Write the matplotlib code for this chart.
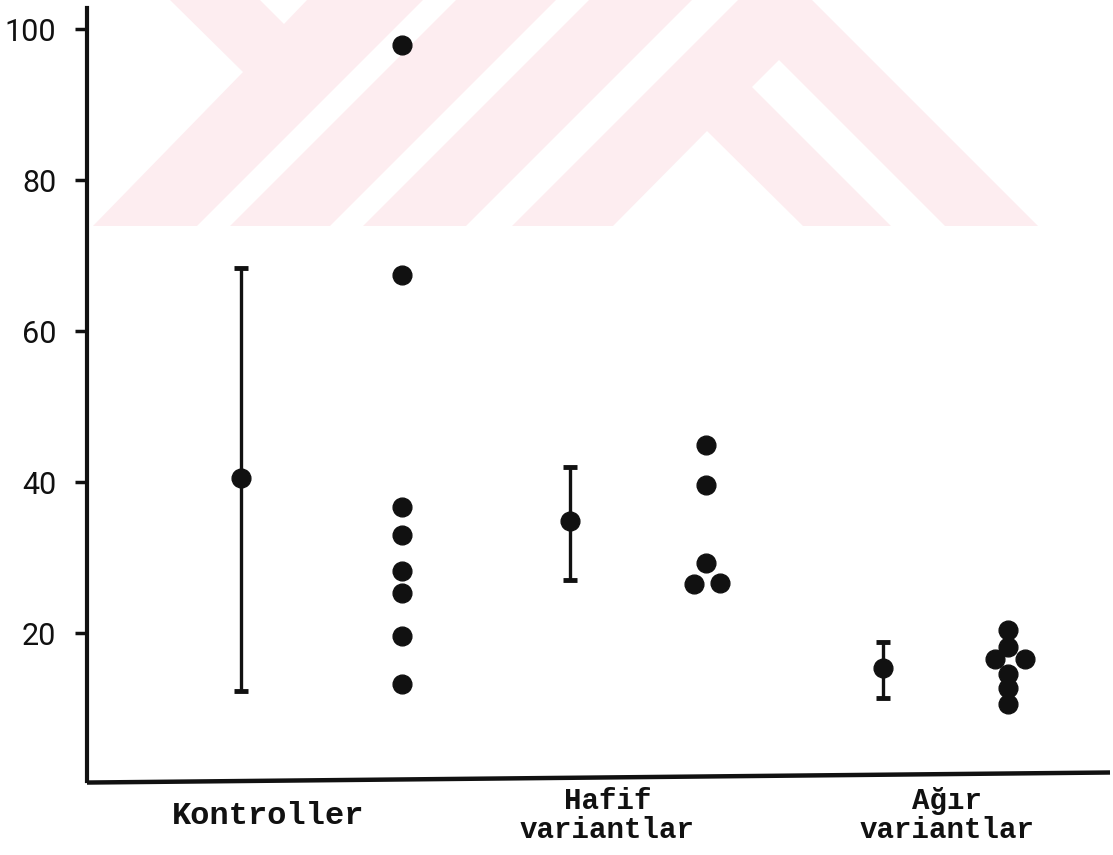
import matplotlib

matplotlib.use("Agg")
import matplotlib.pyplot as plt
import matplotlib.transforms as mtransforms
import numpy as np
from matplotlib.patches import Polygon

# --- data ------------------------------------------------------------------
categories = ["Kontroller", "Hafif\nvariantlar", "Ağır\nvariantlar"]
cat_pos = [0, 1, 2]

# mean with range (error bar column of each group)
bar_x = [-0.08, 0.89, 1.81]
means = np.array([40.6, 34.9, 15.4])
upper = np.array([68.4, 42.0, 18.9])
lower = np.array([12.4, 27.1, 11.5])

# individual values (dot column of each group)
kontroller_x = [0.395] * 8
kontroller_vals = [97.9, 67.5, 36.7, 33.0, 28.2, 25.4, 19.6, 13.3]
hafif_x = [1.29, 1.29, 1.29, 1.255, 1.33]
hafif_vals = [44.9, 39.6, 29.3, 26.5, 26.7]
agir_x = [2.18, 2.18, 2.14, 2.23, 2.18, 2.18, 2.18]
agir_vals = [20.4, 18.2, 16.6, 16.6, 14.6, 12.7, 10.6]

yticks = [20, 40, 60, 80, 100]

INK = "#111111"
W, H = 1113, 855

fig = plt.figure(figsize=(W / 100, H / 100), dpi=100)
fig.patch.set_facecolor("white")


def px(points):
    """pixel coords (y down) -> figure fraction"""
    return [(x / W, 1 - y / H) for x, y in points]


# faint watermark of the scanned page (drawn behind everything)
pink = "#fdedf0"
fig.patches.append(Polygon(px([(170, 0), (812, 0), (1038, 226), (93, 226), (243, 72)]),
                           closed=True, transform=fig.transFigure,
                           facecolor=pink, edgecolor="none", zorder=-2))
white_shapes = [
    [(197, 226), (230, 226), (456, 0), (423, 0)],
    [(330, 226), (363, 226), (589, 0), (556, 0)],
    [(466, 226), (512, 226), (738, 0), (692, 0)],
    [(613, 226), (707, 131), (803, 226)],
    [(891, 226), (945, 226), (779, 60), (752, 87)],
    [(260, 0), (307, 0), (284, 24)],
]
for shp in white_shapes:
    fig.patches.append(Polygon(px(shp), closed=True, transform=fig.transFigure,
                               facecolor="white", edgecolor="none", zorder=-1))

ax = fig.add_axes([87 / W, (H - 781) / H, 1023 / W, 773 / H])
ax.set_facecolor("none")

ax.errorbar(bar_x, means, yerr=[means - lower, upper - means], fmt="o",
            ms=13.5, color=INK, ecolor=INK, elinewidth=2.4, capsize=5,
            capthick=3.5, zorder=3)

for xs, vals in [(kontroller_x, kontroller_vals), (hafif_x, hafif_vals),
                 (agir_x, agir_vals)]:
    ax.plot(xs, vals, "o", ms=13.5, color=INK, linestyle="none", zorder=3)

ax.set_xlim(-0.533, 2.48)
ax.set_ylim(0.45, 102.8)

for side in ["top", "right", "bottom"]:
    ax.spines[side].set_visible(False)
ax.spines["left"].set_linewidth(3)
ax.spines["left"].set_color(INK)

# hand-drawn, slightly tilted base line
ax.plot([0, 1], [-0.002, 0.011], transform=ax.transAxes, color=INK,
        lw=3.2, clip_on=False, solid_capstyle="butt")

ax.set_xticks([])
ax.set_yticks(yticks)
ax.set_yticklabels([str(t) for t in yticks], family="Roboto", fontsize=22)
ax.tick_params(axis="y", direction="out", length=9, width=2.5, color=INK,
               pad=13, labelcolor=INK)

trans = mtransforms.blended_transform_factory(ax.transData, ax.transAxes)
label_sizes = [23, 21, 21]
for pos, name, size in zip(cat_pos, categories, label_sizes):
    ax.text(pos, -0.045, name, transform=trans, ha="center", va="center",
            family="Liberation Mono", weight="bold", fontsize=size,
            color=INK, linespacing=1.05, clip_on=False)

fig.savefig("out.png", dpi=100)
